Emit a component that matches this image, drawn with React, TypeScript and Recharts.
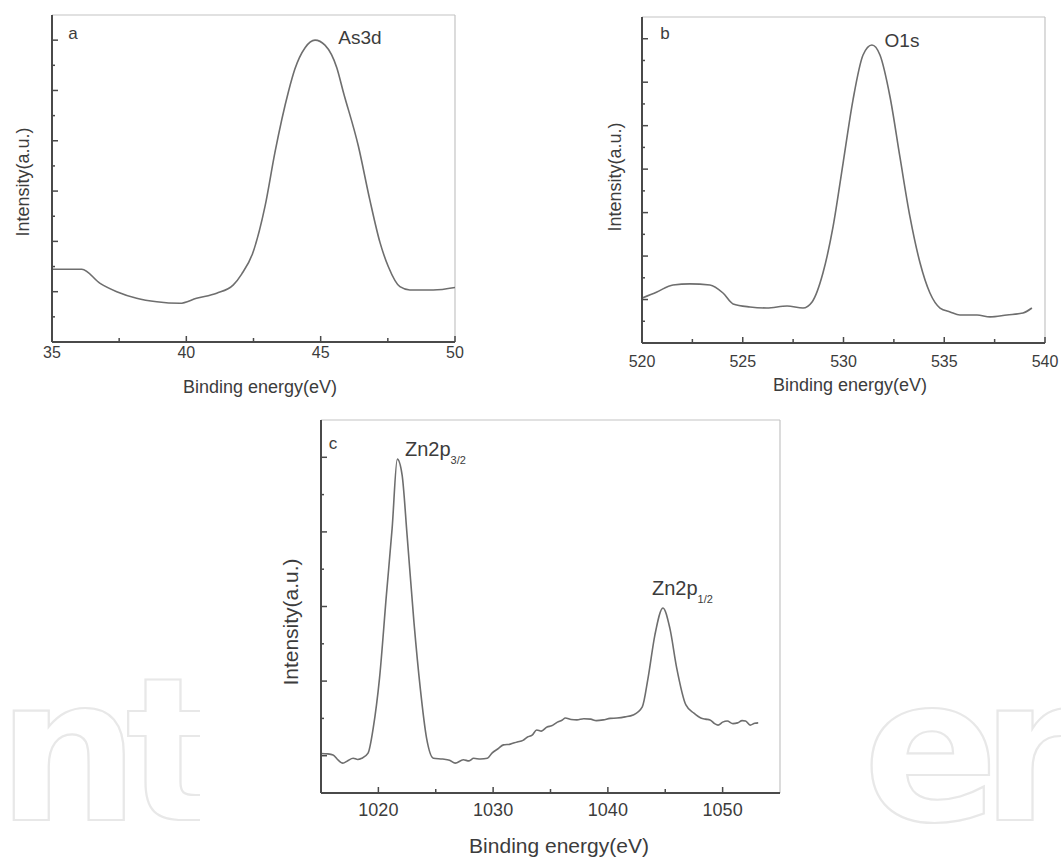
import { LineChart, Line, XAxis, YAxis, ReferenceLine } from "recharts";

// As3d spectrum
const as3dEnergy = [
  35.0, 36.11, 36.79, 37.41, 38.15, 38.9, 39.76, 40.38, 41.13, 41.75, 42.06, 42.46, 42.93, 43.3, 43.8,
  44.04, 44.42, 44.79, 45.16, 45.6, 45.84, 46.4, 46.83, 47.21, 47.52, 47.95, 48.32, 49.19, 50.0,
];
const as3dIntensity = [
  2.89, 2.89, 2.33, 2.0, 1.74, 1.6, 1.54, 1.74, 1.94, 2.27, 2.7, 3.5, 5.4, 7.55, 9.95, 10.85,
  11.7, 12.0, 11.8, 10.9, 9.95, 7.8, 5.65, 3.95, 2.99, 2.2, 2.07, 2.07, 2.17,
];

// O1s spectrum
const o1sEnergy = [
  520.0, 520.74, 521.54, 522.38, 523.37, 524.02, 524.52, 525.36, 526.2, 527.2, 527.99, 528.44,
  528.98, 529.48, 529.98, 530.47, 530.97, 531.41, 531.81, 532.31, 532.8, 533.3, 533.8, 534.29,
  534.79, 535.29, 535.78, 536.63, 537.27, 538.11, 538.91, 539.35,
];
const o1sIntensity = [
  2.07, 2.35, 2.67, 2.72, 2.67, 2.3, 1.8, 1.66, 1.61, 1.7, 1.61, 1.89, 3.22, 5.34, 8.28, 11.18,
  13.25, 13.71, 13.25, 11.32, 8.56, 5.8, 3.68, 2.3, 1.61, 1.43, 1.29, 1.29, 1.2, 1.29, 1.38, 1.61,
];

// Zn2p spectrum
const zn2pEnergy = [
  1015.0, 1015.6, 1016.05, 1016.5, 1016.9, 1017.3, 1017.8, 1018.2, 1018.55, 1019.1, 1019.55,
  1020.1, 1020.7, 1021.2, 1021.65, 1022.07, 1022.5, 1023.1, 1023.65, 1024.2, 1024.8, 1025.6,
  1026.2, 1026.7, 1027.4, 1027.9, 1028.3, 1028.9, 1029.5, 1029.9, 1030.4, 1030.9, 1031.5,
  1032.1, 1032.6, 1033.0, 1033.4, 1033.8, 1034.2, 1034.7, 1035.1, 1035.6, 1036.0, 1036.3,
  1036.8, 1037.3, 1037.9, 1038.5, 1039.0, 1039.6, 1040.2, 1040.8, 1041.5, 1042.2, 1043.0,
  1043.5, 1044.1, 1044.8, 1045.4, 1046.0, 1046.8, 1047.5, 1048.1, 1048.5, 1048.9, 1049.3,
  1049.6, 1050.0, 1050.4, 1050.9, 1051.3, 1051.7, 1052.0, 1052.4, 1052.8, 1053.1,
];
const zn2pIntensity = [
  1.06, 1.05, 1.02, 0.88, 0.8, 0.86, 0.93, 0.9, 0.93, 1.07, 1.74, 3.08, 5.31, 7.1, 8.95, 8.52,
  6.92, 4.58, 2.81, 1.47, 0.93, 0.91, 0.88, 0.8, 0.89, 0.86, 0.93, 0.91, 0.93, 1.07, 1.18, 1.29,
  1.31, 1.37, 1.41, 1.5, 1.55, 1.69, 1.66, 1.77, 1.8, 1.9, 1.95, 2.01, 1.97, 1.96, 1.99, 1.98,
  1.94, 1.96, 2.0, 2.01, 2.04, 2.09, 2.31, 3.08, 4.24, 4.96, 4.42, 3.35, 2.36, 2.14, 2.01, 1.98,
  1.96, 1.86, 1.82, 1.9, 1.93, 1.86, 1.88, 1.94, 1.93, 1.82, 1.87, 1.88,
];

// axis ticks
const as3dXMajor = [35, 40, 45, 50];
const as3dXMinor = [37.5, 42.5, 47.5];
const as3dYTicks = [1, 2, 3, 4, 5, 6, 7, 8, 9, 10, 11, 12];
const o1sXMajor = [520, 525, 530, 535, 540];
const o1sXMinor = [522.5, 527.5, 532.5, 537.5];
const o1sYTicks = [1, 2, 3, 4, 5, 6, 7, 8, 9, 10, 11, 12, 13, 14];
const zn2pXMajor = [1020, 1030, 1040, 1050];
const zn2pXMinor = [1025, 1035, 1045];
const zn2pYTicks = [1, 2, 3, 4, 5, 6, 7, 8, 9];

const FONT = "'Liberation Sans', Arial, sans-serif";
const AXIS = "#4a4a4a";
const FRAME = "#c4c4c4";
const CURVE = "#6e6e6e";
const TEXT = "#3c3c3c";

const zip = (xs: number[], ys: number[]) => xs.map((e, i) => ({ e, v: ys[i] }));

function makeXTick(majors: number[], gap: number, size: number) {
  return (props: any) => {
    const { x, y, payload } = props;
    const major = majors.includes(payload.value);
    return (
      <g>
        <line x1={x} x2={x} y1={y} y2={y - (major ? 6 : 4)} stroke={AXIS} strokeWidth={1.5} />
        {major && (
          <text
            x={x}
            y={y + gap}
            textAnchor="middle"
            dominantBaseline="central"
            fontSize={size}
            fontFamily={FONT}
            fill={TEXT}
          >
            {payload.value}
          </text>
        )}
      </g>
    );
  };
}

function makeYTick(isMajor: (v: number) => boolean) {
  return (props: any) => {
    const { x, y, payload } = props;
    return (
      <line
        x1={x}
        x2={x + (isMajor(payload.value) ? 6 : 3)}
        y1={y}
        y2={y}
        stroke={AXIS}
        strokeWidth={1.5}
      />
    );
  };
}

type PanelProps = {
  left: number;
  top: number;
  width: number;
  height: number;
  margin: { top: number; right: number; bottom: number; left: number };
  energy: number[];
  intensity: number[];
  xDomain: [number, number];
  yMax: number;
  xMajor: number[];
  xMinor: number[];
  yTicks: number[];
  yMajor: (v: number) => boolean;
  labelGap: number;
  tickSize: number;
};

// margins are given to the plot edges; the 1px axis boxes are taken out of them
function Panel(p: PanelProps) {
  const m = { ...p.margin, left: p.margin.left - 1, bottom: p.margin.bottom - 1 };
  return (
    <div style={{ position: "absolute", left: p.left, top: p.top }}>
      <LineChart width={p.width} height={p.height} data={zip(p.energy, p.intensity)} margin={m}>
        <XAxis
          dataKey="e"
          type="number"
          domain={p.xDomain}
          ticks={[...p.xMajor, ...p.xMinor]}
          interval={0}
          height={1}
          tickSize={0}
          tickMargin={0}
          tickLine={false}
          tick={makeXTick(p.xMajor, p.labelGap, p.tickSize)}
          axisLine={{ stroke: AXIS, strokeWidth: 2 }}
          allowDataOverflow
        />
        <YAxis
          type="number"
          domain={[0, p.yMax]}
          ticks={p.yTicks}
          interval={0}
          width={1}
          tickSize={0}
          tickMargin={0}
          tickLine={false}
          tick={makeYTick(p.yMajor)}
          axisLine={{ stroke: AXIS, strokeWidth: 2 }}
          allowDataOverflow
        />
        <ReferenceLine y={p.yMax} stroke={FRAME} strokeWidth={1.2} />
        <ReferenceLine x={p.xDomain[1]} stroke={FRAME} strokeWidth={1.2} />
        <Line
          dataKey="v"
          type="monotone"
          stroke={CURVE}
          strokeWidth={1.6}
          dot={false}
          activeDot={false}
          isAnimationActive={false}
        />
      </LineChart>
    </div>
  );
}

function Txt({
  x,
  y,
  size,
  children,
  rotate,
  anchor = "center",
}: {
  x: number;
  y: number;
  size: number;
  children: React.ReactNode;
  rotate?: boolean;
  anchor?: "center" | "left";
}) {
  const tx = anchor === "center" ? "-50%" : "0";
  return (
    <div
      style={{
        position: "absolute",
        left: x,
        top: y,
        transform: `translate(${tx}, -50%)${rotate ? " rotate(-90deg)" : ""}`,
        fontSize: size,
        fontFamily: FONT,
        color: TEXT,
        whiteSpace: "nowrap",
        lineHeight: 1,
      }}
    >
      {children}
    </div>
  );
}

export default function App() {
  return (
    <div
      style={{
        position: "absolute",
        left: 0,
        top: 0,
        width: 1061,
        height: 857,
        background: "#ffffff",
        overflow: "hidden",
      }}
    >
      {/* background outline lettering */}
      <svg width={1061} height={857} style={{ position: "absolute", left: 0, top: 0 }}>
        <g
          fill="none"
          stroke="#e8e8e8"
          strokeWidth={2.2}
          fontFamily="'DejaVu Sans', sans-serif"
          fontWeight="bold"
          fontSize={200}
        >
          <text x={-3} y={820} letterSpacing={-14}>nt</text>
          <text x={863} y={820} letterSpacing={-18}>er</text>
        </g>
      </svg>
      <div style={{ position: "absolute", left: 200, top: 395, width: 595, height: 462, background: "#ffffff" }} />

      <Panel
        left={0}
        top={0}
        width={480}
        height={400}
        margin={{ top: 15, right: 25, bottom: 58, left: 52 }}
        energy={as3dEnergy}
        intensity={as3dIntensity}
        xDomain={[35, 50]}
        yMax={13}
        xMajor={as3dXMajor}
        xMinor={as3dXMinor}
        yTicks={as3dYTicks}
        yMajor={(v) => v % 2 === 0}
        labelGap={10}
        tickSize={16}
      />
      <Panel
        left={590}
        top={0}
        width={471}
        height={400}
        margin={{ top: 17, right: 16, bottom: 57, left: 52 }}
        energy={o1sEnergy}
        intensity={o1sIntensity}
        xDomain={[520, 540]}
        yMax={15}
        xMajor={o1sXMajor}
        xMinor={o1sXMinor}
        yTicks={o1sYTicks}
        yMajor={(v) => v % 2 === 0}
        labelGap={18}
        tickSize={16}
      />
      <Panel
        left={300}
        top={395}
        width={500}
        height={462}
        margin={{ top: 25, right: 20, bottom: 64, left: 21 }}
        energy={zn2pEnergy}
        intensity={zn2pIntensity}
        xDomain={[1015, 1055]}
        yMax={10}
        xMajor={zn2pXMajor}
        xMinor={zn2pXMinor}
        yTicks={zn2pYTicks}
        yMajor={(v) => v % 2 === 1}
        labelGap={17}
        tickSize={18}
      />

      {/* panel a */}
      <Txt x={73} y={33} size={17}>a</Txt>
      <Txt x={360} y={37} size={19}>As3d</Txt>
      <Txt x={23} y={182} size={18} rotate>Intensity(a.u.)</Txt>
      <Txt x={260} y={387} size={18}>Binding energy(eV)</Txt>

      {/* panel b */}
      <Txt x={665} y={33} size={17}>b</Txt>
      <Txt x={902} y={40} size={19}>O1s</Txt>
      <Txt x={615} y={177} size={18} rotate>Intensity(a.u.)</Txt>
      <Txt x={850} y={385} size={18}>Binding energy(eV)</Txt>

      {/* panel c */}
      <Txt x={333} y={443} size={17}>c</Txt>
      <Txt x={405} y={449} size={20} anchor="left">
        Zn2p<span style={{ fontSize: 11, position: "relative", top: 8 }}>3/2</span>
      </Txt>
      <Txt x={652} y={588} size={20} anchor="left">
        Zn2p<span style={{ fontSize: 11, position: "relative", top: 8 }}>1/2</span>
      </Txt>
      <Txt x={290} y={622} size={21} rotate>Intensity(a.u.)</Txt>
      <Txt x={559} y={845} size={21}>Binding energy(eV)</Txt>
    </div>
  );
}
